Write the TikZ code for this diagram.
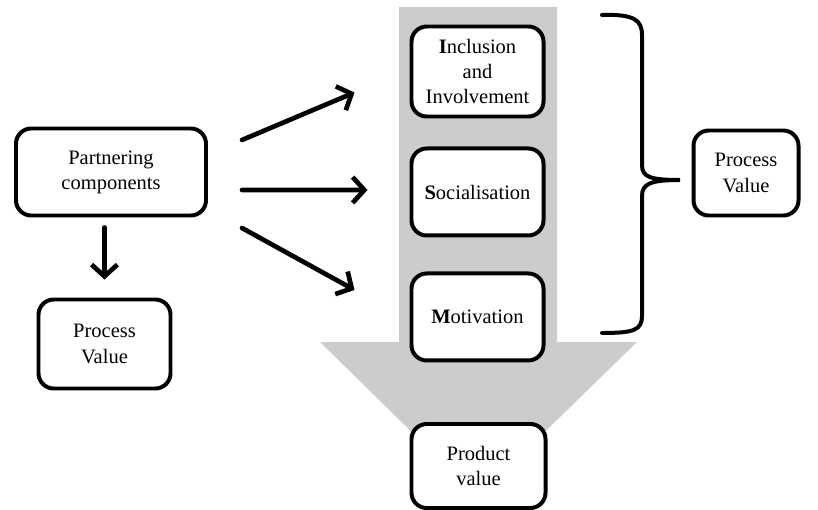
\documentclass[tikz,border=0pt]{standalone}
\usepackage{fontspec}
\setmainfont{Liberation Serif}
\usetikzlibrary{calc,
arrows.meta,
positioning}

\begin{document}
\begin{tikzpicture} [x=0.03cm, y=-0.03cm,
    flow/.style={-{Straight Barb[length=10pt, width=22pt, line width=4pt]},
        line width=4pt, line cap=round},
    value box/.style={rectangle, rounded corners=13pt, draw, fill=white,
        line width=3.4pt, align=center, inner sep=1mm},
    every node/.style={font=\fontsize{17.5}{21.5}\selectfont}
  ]

  \useasboundingbox (0,0) rectangle (818,510);

  % big grey arrow behind the three boxes
  \fill [gray!40] (399,7) -- (557,7) -- (557,342) -- (637,342)
    -- (478,497) -- (320,342) -- (399,342) -- cycle;

  \node [value box,
    minimum width = 5.7cm,
    minimum height = 2.61cm
  ] (part) at (111,172) {Partnering\\components};

  \node [value box,
    minimum width = 3.96cm,
    minimum height = 2.67cm
  ] (pvl) at (104.5,344) {Process\\Value};

  \node [value box,
    minimum width = 3.96cm,
    minimum height = 2.7cm
  ] (incl) at (477.5,71.5) {\textbf{I}nclusion\\and\\Involvement};

  \node [value box,
    minimum width = 3.96cm,
    minimum height = 2.61cm,
    below = .84cm of incl
  ] (soc) {\textbf{S}ocialisation};

  \node [value box,
    minimum width = 3.96cm,
    minimum height = 2.61cm,
    below = 1.02cm of soc
  ] (mot) {\textbf{M}otivation};

  \node [value box,
    minimum width = 4.02cm,
    minimum height = 2.52cm
  ] (prod) at (478.5,466) {Product\\value};

  \node [value box,
    minimum width = 3.15cm,
    minimum height = 2.55cm
  ] (pvr) at (746,173) {Process\\Value};

  \draw [flow] ([shift={(34,-32)}]part.east) -- ([shift={(-55,21)}]incl.west);
  \draw [flow] ([shift={(34,18)}]part.east) -- ([shift={(-42,-2)}]soc.west);
  \draw [flow] ([shift={(34,56)}]part.east) -- ([shift={(-55,-27)}]mot.west);
  \draw [flow] ([shift={(0,10)}]part.south -| pvl.north) -- ([shift={(0,-18)}]pvl.north);

  % brace
  \draw [line width=3.4pt, line cap=round]
    (602,15) .. controls (634,14) and (642,20) .. (642,35) -- (642,165)
    .. controls (642,177) and (650,180) .. (680,180)
    .. controls (650,180) and (642,184) .. (642,196) -- (642,316)
    .. controls (642,330) and (634,333) .. (602,333);

\end{tikzpicture}
\end{document}
